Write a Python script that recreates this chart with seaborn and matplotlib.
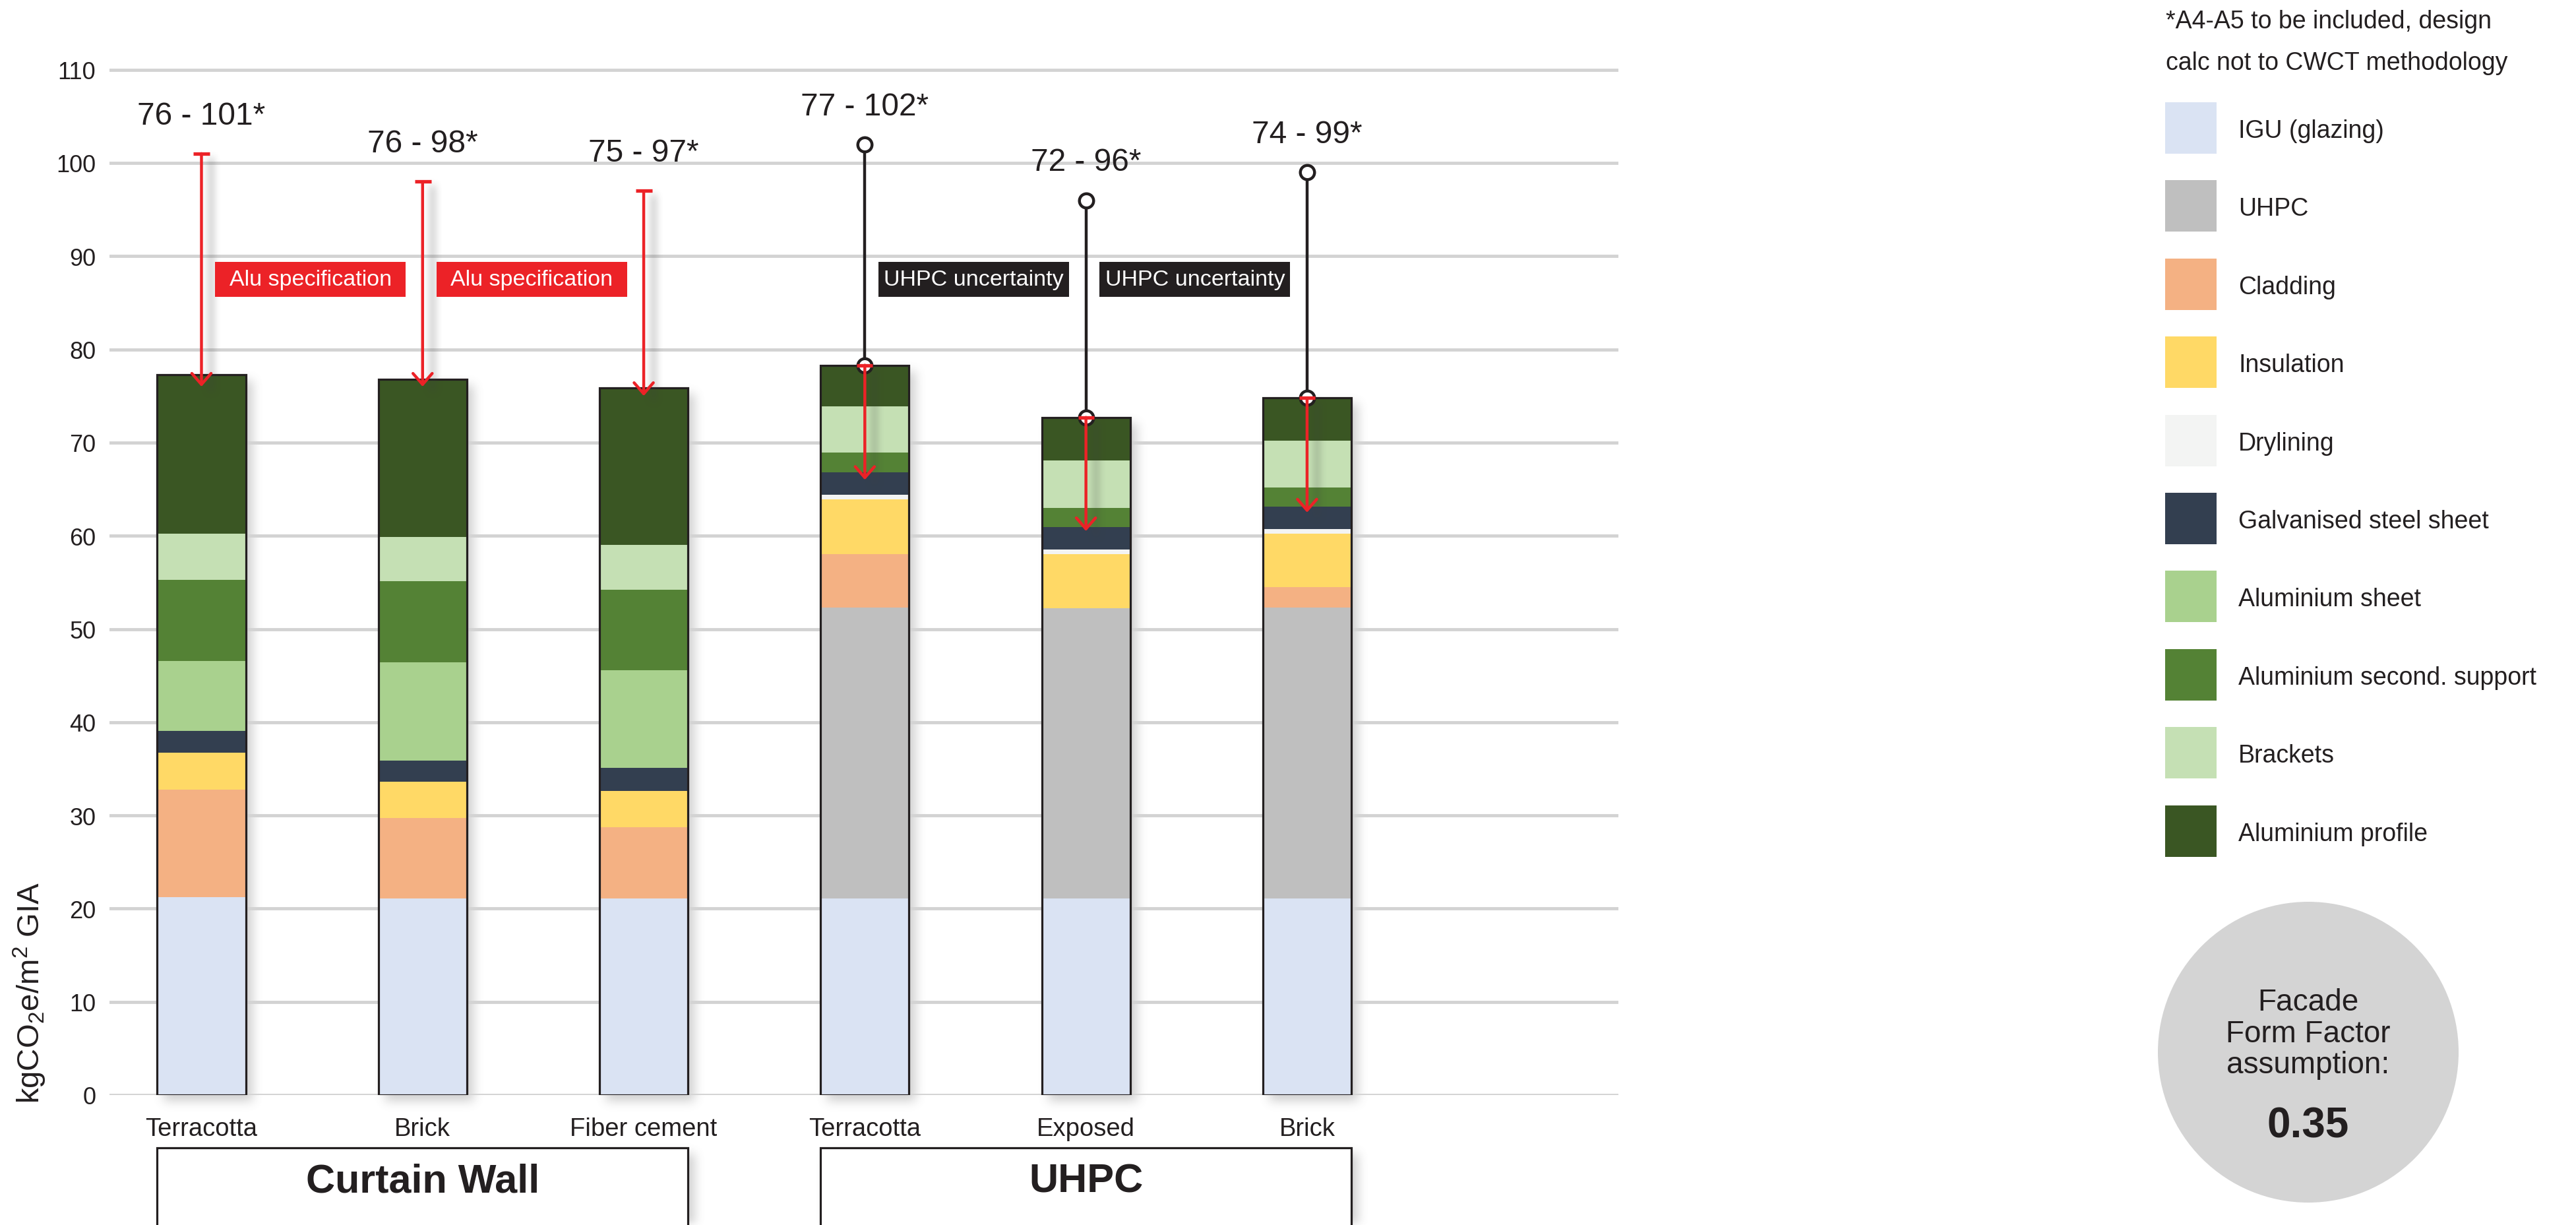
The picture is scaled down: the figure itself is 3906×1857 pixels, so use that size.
import numpy as np
import pandas as pd
import matplotlib
matplotlib.use("Agg")
import matplotlib.pyplot as plt
from matplotlib.patches import Rectangle, Circle
from matplotlib.transforms import Affine2D
import seaborn as sns

# ------------------------------------------------------------------
# Embodied carbon per facade option, kgCO2e/m2 GIA
# ------------------------------------------------------------------
systems = ["Curtain Wall", "Curtain Wall", "Curtain Wall", "UHPC", "UHPC", "UHPC"]
finishes = ["Terracotta", "Brick", "Fiber cement", "Terracotta", "Exposed", "Brick"]

components = ["IGU (glazing)", "UHPC", "Cladding", "Insulation", "Drylining",
              "Galvanised steel sheet", "Aluminium sheet",
              "Aluminium second. support", "Brackets", "Aluminium profile"]
component_colors = ["#dae3f3", "#bfbfbf", "#f4b183", "#ffd966", "#f3f4f3",
                    "#333f50", "#a9d18e", "#548235", "#c5e0b4", "#3a5623"]

igu = [21.2, 21.1, 21.1, 21.1, 21.1, 21.1]
uhpc = [0.0, 0.0, 0.0, 31.2, 31.1, 31.2]
cladding = [11.6, 8.6, 7.6, 5.7, 0.0, 2.2]
insulation = [3.9, 3.9, 3.9, 5.9, 5.8, 5.7]
drylining = [0.0, 0.0, 0.0, 0.5, 0.5, 0.5]
galvanised = [2.4, 2.3, 2.5, 2.4, 2.4, 2.4]
alu_sheet = [7.5, 10.5, 10.5, 0.0, 0.0, 0.0]
alu_second = [8.7, 8.7, 8.6, 2.1, 2.1, 2.1]
brackets = [4.9, 4.8, 4.8, 5.0, 5.1, 5.0]
alu_profile = [17.1, 16.9, 16.9, 4.4, 4.6, 4.6]

# stated ranges (lower - upper*)
range_low = [76, 76, 75, 77, 72, 74]
range_high = [101, 98, 97, 102, 96, 99]
# end of the aluminium reduction arrow drawn inside the UHPC bars
alu_arrow_tip = [None, None, None, 66.0, 60.5, 62.5]

callout_text = ["Alu specification", "Alu specification", "UHPC uncertainty", "UHPC uncertainty"]
callout_after = [0, 1, 3, 4]
callout_level = 87.5

legend_note = ["*A4-A5 to be included, design", "calc not to CWCT methodology"]
form_factor_lines = ["Facade", "Form Factor", "assumption:"]
form_factor_value = "0.35"

# ------------------------------------------------------------------
sns.set_theme(style="white")
plt.rcParams["font.family"] = ["Liberation Sans", "DejaVu Sans"]
plt.rcParams["mathtext.fontset"] = "custom"
plt.rcParams["mathtext.rm"] = "Liberation Sans"

DARK = "#231f20"
RED = "#ec2227"
GRID = "#d3d3d3"

W, H = 3906, 1858
fig = plt.figure(figsize=(W / 100, H / 100), dpi=100, facecolor="white")
px = Affine2D().scale(1.0 / W, -1.0 / H).translate(0, 1) + fig.transFigure

Y_TOP = 112.0
ax_left, ax_right = 166 / W, 2454 / W
ax_bottom = (H - 1661) / H
ax_top = (H - (1661 - Y_TOP * 14.13)) / H
ax = fig.add_axes([ax_left, ax_bottom, ax_right - ax_left, ax_top - ax_bottom])
ax.set_facecolor("none")

keys = [f"{s} | {f}" for s, f in zip(systems, finishes)]
layers = np.array([igu, uhpc, cladding, insulation, drylining, galvanised,
                   alu_sheet, alu_second, brackets, alu_profile])
tops = np.cumsum(layers, axis=0)
totals = tops[-1]
df = pd.DataFrame(tops.T, columns=components)
df["option"] = keys

BAR_W = 0.4
# stacked bars: each component drawn from zero up to its cumulative top,
# the lower components painted over the upper ones
for k in reversed(range(len(components))):
    sns.barplot(data=df, x="option", y=components[k], order=keys,
                color=component_colors[k], saturation=1, width=BAR_W,
                linewidth=0, edgecolor="none", errorbar=None, ax=ax, zorder=2)
df["total"] = totals
sns.barplot(data=df, x="option", y="total", order=keys, fill=False,
            color=DARK, linewidth=2.3, width=BAR_W, errorbar=None, ax=ax, zorder=3)

ax.set_xlim(-0.416, 6.408)
ax.set_ylim(0, Y_TOP)
ax.set_xlabel("")
ax.set_ylabel("")
ax.set_xticks(range(len(keys)))
ax.set_xticklabels(finishes, fontsize=27.5, color=DARK)
ax.set_yticks(np.arange(0, 111, 10))
ax.set_yticklabels([str(v) for v in range(0, 111, 10)], fontsize=26, color=DARK)
ax.tick_params(axis="x", length=0, pad=24)
ax.tick_params(axis="y", length=0, pad=15)
for s in ax.spines.values():
    s.set_visible(False)
ax.set_axisbelow(True)
ax.yaxis.grid(True, color=GRID, linewidth=3.5)
ax.xaxis.grid(False)

ARROW = dict(arrowstyle="->,head_length=1.2,head_width=1.05", color=RED, lw=3.2,
             shrinkA=0, shrinkB=0, mutation_scale=10)

# ---- range annotations ----
for i in range(len(keys)):
    lo, hi = range_low[i], range_high[i]
    ax.text(i, hi + 3.2, f"{lo} - {hi}*", ha="center", va="baseline",
            fontsize=34.5, color=DARK, zorder=6)
    if systems[i] == "Curtain Wall":
        ax.annotate("", xy=(i, lo), xytext=(i, hi), arrowprops=ARROW, zorder=6)
        ax.plot([i], [hi], marker="_", ms=18, mew=3.8, color=RED, zorder=6)
    else:
        ax.plot([i, i], [totals[i], hi], color=DARK, lw=3.2, zorder=5,
                solid_capstyle="butt")
        ax.plot([i, i], [totals[i], hi], ls="none", marker="o", ms=15.5,
                mfc="white", mec=DARK, mew=3.2, zorder=5)
        ax.annotate("", xy=(i, alu_arrow_tip[i]), xytext=(i, totals[i]),
                    arrowprops=ARROW, zorder=6)
        ax.plot([i], [totals[i]], marker="_", ms=17, mew=3.8, color=RED, zorder=6)

# ---- callout boxes ----
for text, i in zip(callout_text, callout_after):
    fc = RED if text.startswith("Alu") else DARK
    x0 = i + 0.062
    ax.add_patch(Rectangle((x0, callout_level - 1.9), 0.862, 3.8, facecolor=fc,
                           edgecolor="none", zorder=6, clip_on=False))
    ax.text(x0 + 0.431, callout_level, text, ha="center", va="center",
            fontsize=24.5, color="white", zorder=7)

# ---- group boxes under the axis ----
groups = [("Curtain Wall", 0, 2), ("UHPC", 3, 5)]
BOX_TOP = -5.66
for name, a, b in groups:
    ax.add_patch(Rectangle((a - BAR_W / 2, BOX_TOP - 12), (b - a) + BAR_W, 12,
                           facecolor="white", edgecolor=DARK, lw=2.3,
                           clip_on=False, zorder=4))
    ax.text((a + b) / 2, -9.25, name, ha="center", va="center", fontsize=44,
            fontweight="bold", color=DARK, clip_on=False, zorder=5)

# ---- y label ----
fig.text(45 / W, 1 - 1505 / H, r"kgCO$_\mathregular{2}$e/m$^\mathregular{2}$ GIA",
         rotation=90, ha="center", va="center", fontsize=34, color=DARK)

# ---- legend ----
for j, (txt, y) in enumerate(zip(legend_note, [28.7, 92.5])):
    fig.text(3284, y, txt, transform=px, ha="left", va="center_baseline",
             fontsize=27, color=DARK)
for j, (name, col) in enumerate(zip(components, component_colors)):
    y0 = 156 + j * 118.4
    fig.add_artist(Rectangle((3283, y0 + 78), 78, -78, transform=px,
                             facecolor=col, edgecolor="none"))
    fig.text(3394, y0 + 39, name, transform=px, ha="left", va="center_baseline",
             fontsize=27, color=DARK)

# ---- form factor badge ----
fig.add_artist(Circle((3500, 1596), 228, transform=px, facecolor="#d4d4d4",
                      edgecolor="none"))
for txt, yb in zip(form_factor_lines, [1532, 1580, 1627]):
    fig.text(3500, yb, txt, transform=px, ha="center", va="baseline",
             fontsize=33, color=DARK)
fig.text(3500, 1725, form_factor_value, transform=px, ha="center", va="baseline",
         fontsize=46, fontweight="bold", color=DARK)


# ---- soft drop shadows ----
def box_blur(a, r, axis):
    pad = [(0, 0), (0, 0)]
    pad[axis] = (r + 1, r)
    c = np.cumsum(np.pad(a, pad), axis=axis, dtype=np.float32)
    n = 2 * r + 1
    if axis == 0:
        return (c[n:] - c[:-n]) / n
    return (c[:, n:] - c[:, :-n]) / n


def soft(a, r):
    for _ in range(3):
        a = box_blur(a, r, 0)
        a = box_blur(a, r, 1)
    return a


def paint(mask, x0, y0, x1, y1, dx, dy):
    # display coords (origin bottom-left) -> image rows/cols
    r0 = int(round(H - max(y0, y1) + dy))
    r1 = int(round(H - min(y0, y1) + dy))
    c0 = int(round(min(x0, x1) + dx))
    c1 = int(round(max(x0, x1) + dx))
    mask[max(r0, 0):min(r1, H), max(c0, 0):min(c1, W)] = 1.0


def rgba(alpha, level):
    img = np.zeros((alpha.shape[0], alpha.shape[1], 4), np.uint8)
    img[..., :3] = int(level * 255)
    img[..., 3] = np.clip(alpha * 255, 0, 255).astype(np.uint8)
    return img


tD = ax.transData
base = np.zeros((H, W), np.float32)
for i in range(len(keys)):
    (x0, y0), (x1, y1) = tD.transform([(i - BAR_W / 2, 0), (i + BAR_W / 2, totals[i])])
    paint(base, x0, y0, x1, y1, 10, 9)
for name, a, b in groups:
    (x0, y0), (x1, y1) = tD.transform([(a - BAR_W / 2, BOX_TOP), (b + BAR_W / 2, BOX_TOP - 12)])
    paint(base, x0, y0, x1, y1, 10, 9)
base = soft(base, 7) * 0.32
bg = fig.add_axes([0, 0, 1, 1], zorder=-1)
bg.imshow(rgba(base, 0.42), extent=(0, W, 0, H), origin="upper",
          aspect="auto", interpolation="nearest")
bg.set_xlim(0, W)
bg.set_ylim(0, H)
bg.axis("off")

lines = np.zeros((H, W), np.float32)
for i in range(len(keys)):
    if systems[i] == "Curtain Wall":
        top, bottom = range_high[i], range_low[i]
    else:
        top, bottom = totals[i], alu_arrow_tip[i]
    (x0, y0), (x1, y1) = tD.transform([(i, bottom), (i, top)])
    paint(lines, x0 + 12, y0 - 2, x0 + 18, y1, 0, 6)
lines = soft(lines, 5) * 0.4
bx0, by0, bx1, by1 = ax.bbox.extents
crop = lines[int(round(H - by1)):int(round(H - by0)), int(round(bx0)):int(round(bx1))]
ax.imshow(rgba(crop, 0.25), extent=(ax.get_xlim()[0], ax.get_xlim()[1], 0, Y_TOP),
          origin="upper", aspect="auto", interpolation="bilinear", zorder=4)
ax.set_xlim(-0.416, 6.408)
ax.set_ylim(0, Y_TOP)

fig.savefig("out.png", dpi=100, facecolor="white")
